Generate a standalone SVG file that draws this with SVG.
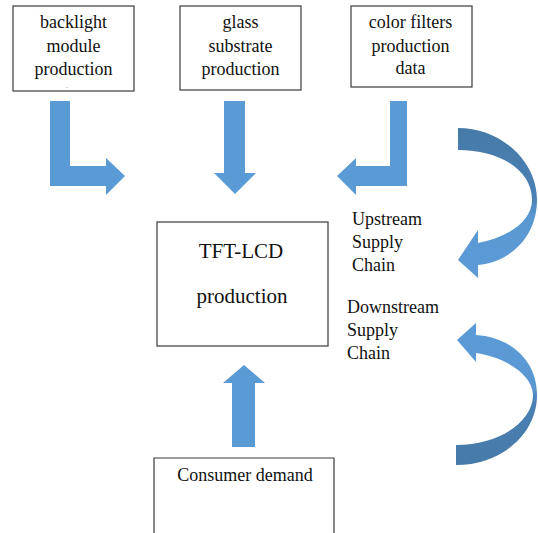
<svg xmlns="http://www.w3.org/2000/svg" width="538" height="533" viewBox="0 0 538 533">
  <style>
    .box { fill: #ffffff; stroke: #3a3a3a; stroke-width: 1.2; }
    .lbl { font-family: "Liberation Serif", "Times New Roman", serif; font-size: 18px; fill: #111111; text-anchor: middle; }
    .side { font-family: "Liberation Serif", "Times New Roman", serif; font-size: 18px; fill: #111111; }
    .big { font-size: 21px; }
    .flow { fill: #5b9bd5; }
  </style>
  <defs>
    <linearGradient id="gradDown" x1="0" y1="0" x2="0" y2="1">
      <stop offset="0" stop-color="#467aa8"/>
      <stop offset="0.45" stop-color="#4a80b4"/>
      <stop offset="0.6" stop-color="#5a98d2"/>
      <stop offset="1" stop-color="#5b9bd5"/>
    </linearGradient>
    <linearGradient id="gradUp" x1="0" y1="0" x2="0" y2="1">
      <stop offset="0" stop-color="#5b9bd5"/>
      <stop offset="0.45" stop-color="#5a98d2"/>
      <stop offset="0.55" stop-color="#4a80b4"/>
      <stop offset="1" stop-color="#467aa8"/>
    </linearGradient>
  </defs>

  <rect width="538" height="533" fill="#ffffff"/>

  <g id="backlight">
    <rect class="box" x="13" y="6" width="121" height="85"/>
    <text class="lbl" x="73.5" y="28">backlight</text>
    <text class="lbl" x="73.5" y="52">module</text>
    <text class="lbl" x="73.5" y="75">production</text>
    <text class="lbl" x="67" y="88" style="font-size:8px; fill:#777777">.</text>
  </g>

  <g id="glass">
    <rect class="box" x="180" y="6" width="121" height="84"/>
    <text class="lbl" x="240.5" y="28">glass</text>
    <text class="lbl" x="240.5" y="52">substrate</text>
    <text class="lbl" x="240.5" y="75">production</text>
  </g>

  <g id="colorfilters">
    <rect class="box" x="351" y="6" width="121" height="81"/>
    <text class="lbl" x="410.5" y="28">color filters</text>
    <text class="lbl" x="410.5" y="52">production</text>
    <text class="lbl" x="410.5" y="74">data</text>
  </g>

  <g id="tftlcd">
    <rect class="box" x="157" y="222" width="171" height="124"/>
    <text class="lbl big" x="241" y="258">TFT-LCD</text>
    <text class="lbl big" x="242" y="303">production</text>
  </g>

  <g id="consumer">
    <path class="box" d="M154 540 V458 H334 V540"/>
    <text class="lbl" x="245" y="481">Consumer demand</text>
  </g>

  <g id="upstream-label">
    <text class="side" x="352" y="225">Upstream</text>
    <text class="side" x="352" y="248">Supply</text>
    <text class="side" x="352" y="271">Chain</text>
  </g>

  <g id="downstream-label">
    <text class="side" x="347" y="313">Downstream</text>
    <text class="side" x="347" y="336">Supply</text>
    <text class="side" x="347" y="359">Chain</text>
  </g>

  <g id="connectors">
    <!-- bent arrow from backlight module -->
    <path class="flow" d="M50 101 H70 V166 H106 V158 L125 176 L106 195 V186 H50 Z"/>
    <!-- straight arrow from glass substrate -->
    <path class="flow" d="M224 101 H245 V173 H256 L235 194 L214 173 H224 Z"/>
    <!-- bent arrow from color filters -->
    <path class="flow" d="M407 101 H390 V166 H356 V158 L337 176 L356 195 V186 H407 Z"/>
    <!-- consumer demand up to production -->
    <path class="flow" d="M232 447 V383 H223 L244 365 L265 383 H255 V447 Z"/>
    <!-- upstream curved arrow -->
    <path fill="url(#gradDown)" d="M458 128 C500 128 537 160 537 200 C537 236 511 262 478 265 L478 278 L458 260 L478 230 L478 243 C506 238 532 222 532 200 C532 170 500 150 458 150 Z"/>
    <!-- downstream curved arrow -->
    <path fill="url(#gradUp)" d="M456 465 C500 465 537 435 537 395 C537 360 510 337 476 335 L476 323 L457 340 L476 362 L476 353 C505 357 533 375 533 395 C533 421 500 445 456 445 Z"/>
  </g>
</svg>
